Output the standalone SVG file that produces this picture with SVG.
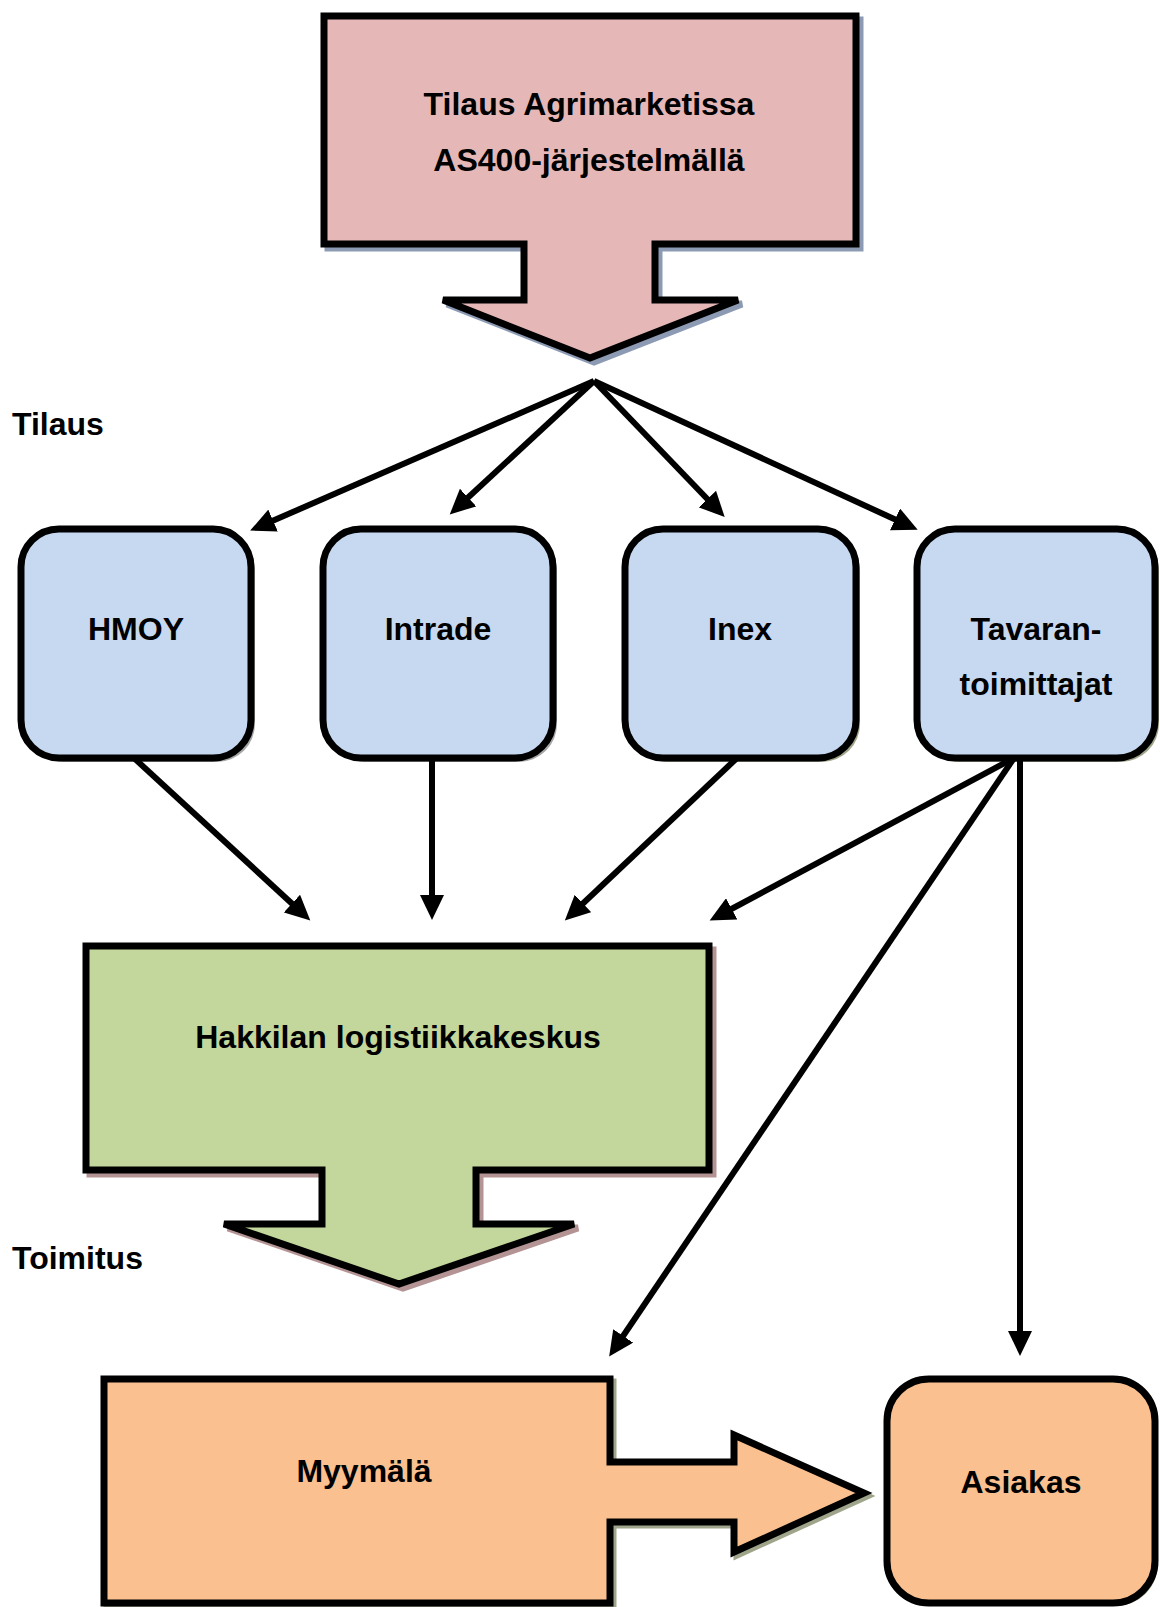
<svg xmlns="http://www.w3.org/2000/svg" width="1160" height="1607" viewBox="0 0 1160 1607">
<defs>
<style>
.t{font-family:"Liberation Sans",Arial,sans-serif;font-weight:bold;font-size:32px;fill:#000;text-anchor:middle}
.lbl{font-family:"Liberation Sans",Arial,sans-serif;font-weight:bold;font-size:32px;fill:#000}
.shape{stroke:#000;stroke-width:7;stroke-linejoin:miter}
.conn{stroke:#000;stroke-width:6;fill:none;marker-end:url(#ah)}
</style>
<marker id="ah" markerUnits="userSpaceOnUse" markerWidth="26" markerHeight="24" refX="11" refY="12" orient="auto">
<path d="M0,0 L25,12 L0,24 z" fill="#000"/>
</marker>
</defs>
<rect width="1160" height="1607" fill="#fff"/>

<g id="tilaus-agrimarket">
<polygon points="328,20 860,20 860,248 659,248 659,304 742,304 594,362 447,304 528,304 528,248 328,248" fill="#8c9bb3" stroke="#8c9bb3" stroke-width="7"/>
<polygon class="shape" points="324,16 856,16 856,244 655,244 655,300 738,300 590,358 443,300 524,300 524,244 324,244" fill="#e5b8b7"/>
<text class="t" x="589" y="115">Tilaus Agrimarketissa</text>
<text class="t" x="589" y="171">AS400-järjestelmällä</text>
</g>

<text id="label-tilaus" class="lbl" x="12" y="435">Tilaus</text>
<text id="label-toimitus" class="lbl" x="12" y="1269">Toimitus</text>

<g id="hmoy">
<rect x="25" y="533" width="230" height="229" rx="38" fill="#a6a6a6"/>
<rect class="shape" x="21" y="529" width="230" height="229" rx="38" fill="#c6d9f1"/>
<text class="t" x="136" y="640">HMOY</text>
</g>
<g id="intrade">
<rect x="327" y="533" width="230" height="229" rx="38" fill="#a6a6a6"/>
<rect class="shape" x="323" y="529" width="230" height="229" rx="38" fill="#c6d9f1"/>
<text class="t" x="438" y="640">Intrade</text>
</g>
<g id="inex">
<rect x="629" y="533" width="231" height="229" rx="38" fill="#9ea58a"/>
<rect class="shape" x="625" y="529" width="231" height="229" rx="38" fill="#c6d9f1"/>
<text class="t" x="740" y="640">Inex</text>
</g>
<g id="tavarantoimittajat">
<rect x="921" y="533" width="238" height="229" rx="38" fill="#9ea58a"/>
<rect class="shape" x="917" y="529" width="238" height="229" rx="38" fill="#c6d9f1"/>
<text class="t" x="1036" y="640">Tavaran-</text>
<text class="t" x="1036" y="695">toimittajat</text>
</g>

<g id="hakkila">
<polygon points="90,950 713,950 713,1174 480,1174 480,1228 578,1228 403,1288 228,1228 326,1228 326,1174 90,1174" fill="#b39393" stroke="#b39393" stroke-width="7"/>
<polygon class="shape" points="86,946 709,946 709,1170 476,1170 476,1224 574,1224 399,1284 224,1224 322,1224 322,1170 86,1170" fill="#c3d69b"/>
<text class="t" x="398" y="1048">Hakkilan logistiikkakeskus</text>
</g>

<g id="myymala">
<polygon points="107,1382 613,1382 613,1465 737,1465 737,1438 867,1496 737,1555 737,1525 613,1525 613,1606 107,1606" fill="#9ea58a" stroke="#9ea58a" stroke-width="7"/>
<polygon class="shape" points="104,1379 610,1379 610,1462 734,1462 734,1435 864,1493 734,1552 734,1522 610,1522 610,1603 104,1603" fill="#fac090"/>
<text class="t" x="364" y="1482">Myymälä</text>
</g>

<g id="asiakas">
<rect x="890" y="1382" width="268" height="224" rx="42" fill="#9ea58a"/>
<rect class="shape" x="887" y="1379" width="268" height="224" rx="42" fill="#fac090"/>
<text class="t" x="1021" y="1493">Asiakas</text>
</g>

<g id="connectors">
<path class="conn" d="M594,381 L263,525"/>
<path class="conn" d="M594,381 L460,505"/>
<path class="conn" d="M594,381 L715,507"/>
<path class="conn" d="M594,381 L905,524"/>
<path class="conn" d="M134,758 L300,911"/>
<path class="conn" d="M432,758 L432,906"/>
<path class="conn" d="M737,758 L575,911"/>
<path class="conn" d="M1014,758 L722,914"/>
<path class="conn" d="M1014,758 L617,1345"/>
<path class="conn" d="M1020,758 L1020,1342"/>
</g>
</svg>
